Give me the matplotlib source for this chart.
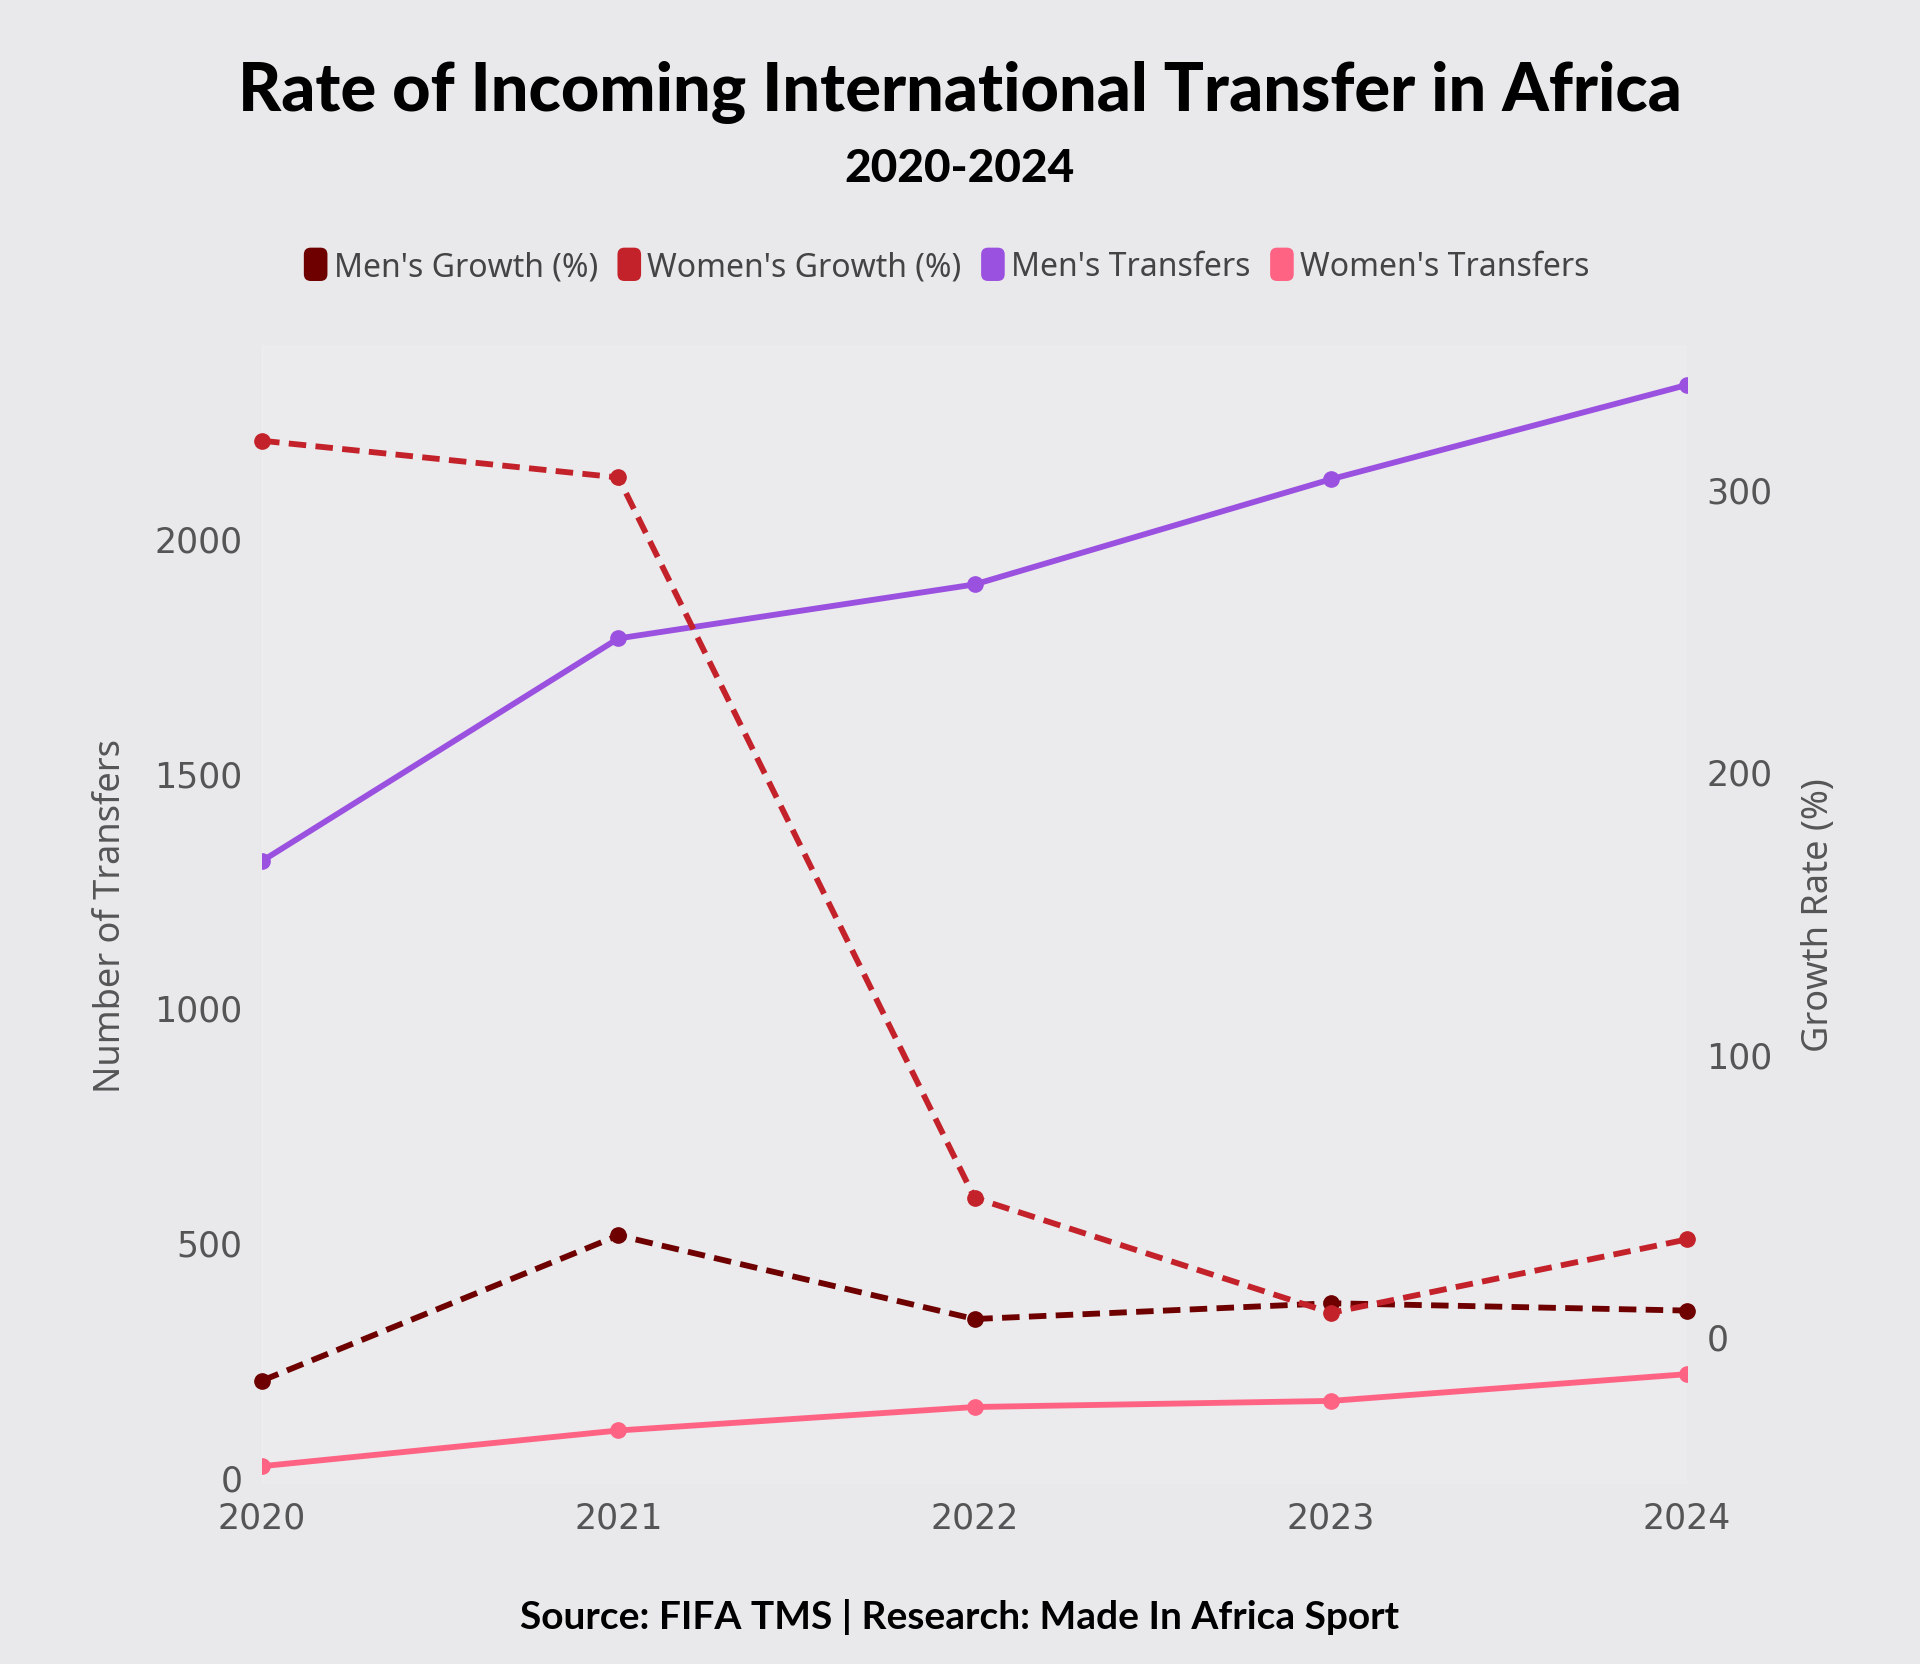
import numpy as np
import matplotlib
matplotlib.use("Agg")
import matplotlib.pyplot as plt
from matplotlib.patches import FancyBboxPatch
from matplotlib.legend_handler import HandlerPatch
from matplotlib.patches import Patch

# Datos
years = [2020, 2021, 2022, 2023, 2024]
mens_transfers = [1312, 1786, 1901, 2125, 2326]
womens_transfers = [23, 99, 149, 162, 219]
mens_growth = [-15.7, 35.7, 6.1, 11.7, 9.1]
womens_growth = [317, 304, 49, 8.3, 34.3]

left_ticks = [0, 500, 1000, 1500, 2000]
right_ticks = [0, 100, 200, 300]

series_names = ["Men's Growth (%)", "Women's Growth (%)", "Men's Transfers", "Women's Transfers"]
c_men_growth = "#6e0000"
c_women_growth = "#c4222a"
c_men_tr = "#9b51e0"
c_women_tr = "#ff6384"

BG = "#e9e8eb"
PLOT_BG = "#ebeaed"
TICK_C = "#555555"

fig = plt.figure(figsize=(19.2, 16.65), dpi=100, facecolor=BG)
ax = fig.add_axes([0.1365, 0.1081, 0.7422, 0.6841])
ax.set_facecolor(PLOT_BG)
ax2 = ax.twinx()
ax2.patch.set_visible(False)

lw = 4.2
ms = 11
ax.plot(years, mens_transfers, color=c_men_tr, lw=lw, marker="o", ms=ms, solid_capstyle="butt")
ax.plot(years, womens_transfers, color=c_women_tr, lw=lw, marker="o", ms=ms, solid_capstyle="butt")
ax2.plot(years, mens_growth, color=c_men_growth, lw=lw, marker="o", ms=ms,
         linestyle=(0, (3, 1.6)), clip_on=False)
ax2.plot(years, womens_growth, color=c_women_growth, lw=lw, marker="o", ms=ms,
         linestyle=(0, (3, 1.6)), clip_on=False)

ax.set_xlim(2020, 2024)
ax.set_ylim(-15, 2411)
ax2.set_ylim(-52.3, 350.9)

ax.set_xticks(years)
ax.set_xticklabels([str(y) for y in years])
ax.set_yticks(left_ticks)
ax2.set_yticks(right_ticks)

for a in (ax, ax2):
    for s in a.spines.values():
        s.set_visible(False)
    a.tick_params(length=0, labelsize=25, labelcolor=TICK_C)
ax.tick_params(axis="x", pad=12)
ax.tick_params(axis="y", pad=14)
ax2.tick_params(axis="y", pad=14)

ax.grid(False)
ax.axvline(2020, color="#efeff1", lw=1.2, zorder=0)

lab_font = dict(family=["Noto Sans", "DejaVu Sans"], fontsize=26, color=TICK_C)
ax.set_ylabel("Number of Transfers", labelpad=18, **lab_font)
ax2.set_ylabel("Growth Rate (%)", labelpad=20, **lab_font)

# Títulos
fig.text(0.5, 1 - 93 / 1665, "Rate of Incoming International Transfer in Africa",
         ha="center", va="center", fontsize=48, fontweight="black",
         family=["Lato", "DejaVu Sans"], color="black")
fig.text(0.5, 1 - 169 / 1665, "2020-2024", ha="center", va="center", fontsize=33,
         fontweight="black", family=["Lato", "DejaVu Sans"], color="black")
fig.text(0.5, 1 - 1617 / 1665, "Source: FIFA TMS | Research: Made In Africa Sport",
         ha="center", va="center", fontsize=28, fontweight="bold",
         family=["Lato", "DejaVu Sans"], color="black")


# Leyenda con rectángulos redondeados
class RoundHandler(HandlerPatch):
    def create_artists(self, legend, orig_handle, xdescent, ydescent, width, height, fontsize, trans):
        w = 17
        h = 24
        x0 = width - w
        y0 = (height - h) / 2
        p = FancyBboxPatch((x0 + 5, y0 + 5), w - 10, h - 10,
                           boxstyle="round,pad=5,rounding_size=5",
                           facecolor=orig_handle.get_facecolor(), edgecolor="none",
                           transform=trans)
        return [p]


handles = [Patch(facecolor=c) for c in [c_men_growth, c_women_growth, c_men_tr, c_women_tr]]
leg = fig.legend(handles, series_names, loc="center", bbox_to_anchor=(0.493, 1 - 268 / 1665),
                 ncol=4, frameon=False, handler_map={Patch: RoundHandler()},
                 handlelength=0.75, handletextpad=0.2, columnspacing=0.6,
                 prop={"family": ["Noto Sans", "DejaVu Sans"], "size": 23})
for t in leg.get_texts():
    t.set_color("#444444")

fig.savefig("out.png", dpi=100, facecolor=BG)
